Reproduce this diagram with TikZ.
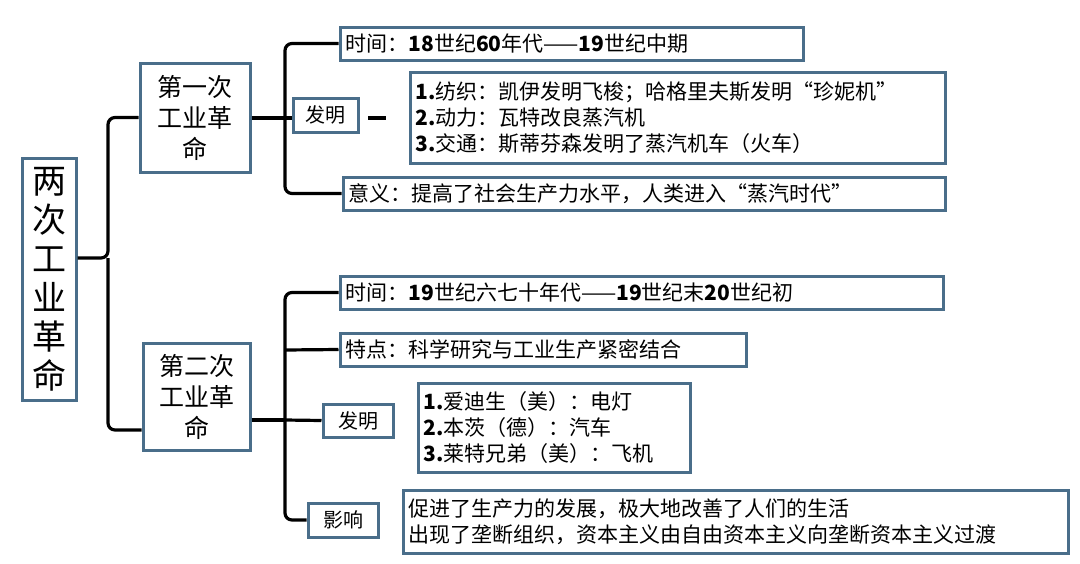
\documentclass[tikz,border=0pt]{standalone}
\usepackage{fontspec}
\setmainfont{Noto Sans CJK SC}
\definecolor{bd}{HTML}{4A6E8A}
\begin{document}
\begin{tikzpicture}[x=1pt,y=-1pt,
 bx/.style={draw=bd,line width=3pt,fill=white,inner sep=0pt},
 t/.style={font=\fontsize{21}{26}\selectfont,anchor=west},
 ln/.style={line width=3.2pt,rounded corners=7pt}]
\useasboundingbox (0,0) rectangle (1080,563);
\node[bx,minimum width=54,minimum height=242,text width=54,font=\fontsize{34}{39}\selectfont,align=center] (m) at (49,279) {两\\次\\工\\业\\革\\命};
\node[bx,minimum width=110,minimum height=109,font=\fontsize{25}{31}\selectfont,align=center] (a) at (195,117.5) {第一次\\工业革\\命};
\node[bx,minimum width=107,minimum height=107,font=\fontsize{25}{31}\selectfont,align=center] (b) at (196.5,396.5) {第二次\\工业革\\命};
% first
\node[bx,minimum width=463,minimum height=33] (t1) at (571.5,43.5) {};
\node[t] at (t1.west) {\,时间：\textbf{18}世纪\textbf{60}年代——\textbf{19}世纪中期};
\node[bx,minimum width=65,minimum height=34,font=\fontsize{20}{24}\selectfont] (f1) at (325.5,115) {发明};
\node[bx,minimum width=535,minimum height=91] (l1) at (677.5,117.5) {};
\node[t,align=left] at (l1.west) {\,\textbf{1.}纺织：凯伊发明飞梭；哈格里夫斯发明“珍妮机”\\\,\textbf{2.}动力：瓦特改良蒸汽机\\\,\textbf{3.}交通：斯蒂芬森发明了蒸汽机车（火车）};
\coordinate (d1) at (368,118); \coordinate (d2) at (386,118);
\draw[line width=3.2pt] (d1) -- (d2);
\node[bx,minimum width=602,minimum height=33] (y1) at (644,193.5) {};
\node[t] at (y1.west) {\,意义：提高了社会生产力水平，人类进入“蒸汽时代”};
% second
\node[bx,minimum width=603,minimum height=33] (t2) at (641.5,292.5) {};
\node[t] at (t2.west) {\,时间：\textbf{19}世纪六七十年代——\textbf{19}世纪末\textbf{20}世纪初};
\node[bx,minimum width=406,minimum height=33] (p2) at (543,349.5) {};
\node[t] at (p2.west) {\,特点：科学研究与工业生产紧密结合};
\node[bx,minimum width=70,minimum height=33,font=\fontsize{20}{24}\selectfont] (f2) at (358,420.5) {发明};
\node[bx,minimum width=272,minimum height=89] (l2) at (554,427.5) {};
\node[t,align=left] at (l2.west) {\,\textbf{1.}爱迪生（美）：电灯\\\,\textbf{2.}本茨（德）：汽车\\\,\textbf{3.}莱特兄弟（美）：飞机};
\node[bx,minimum width=70,minimum height=34,font=\fontsize{20}{24}\selectfont] (y2) at (343,520) {影响};
\node[bx,minimum width=665,minimum height=63] (e2) at (735.5,521.5) {};
\node[t,align=left] at (e2.west) {\,促进了生产力的发展，极大地改善了人们的生活\\\,出现了垄断组织，资本主义由自由资本主义向垄断资本主义过渡};
% connectors
\draw[ln] (m.east |- 0,258) -- (108,258) |- (a.west);
\draw[ln] (108,258) |- (b.west |- 0,430);
\draw[ln] (a.east |- 0,118) -- (285,118);
\draw[ln] (t1.west) -| (285,118) |- (y1.west);
\draw[ln] (285,118) -- (f1.west |- 0,118);
\draw[ln] (b.east |- 0,420) -- (285,420);
\draw[ln] (t2.west) -| (285,420) |- (y2.west);
\draw[ln] (285,350) -- (p2.west);
\draw[ln] (285,420) -- (f2.west);
\end{tikzpicture}
\end{document}
